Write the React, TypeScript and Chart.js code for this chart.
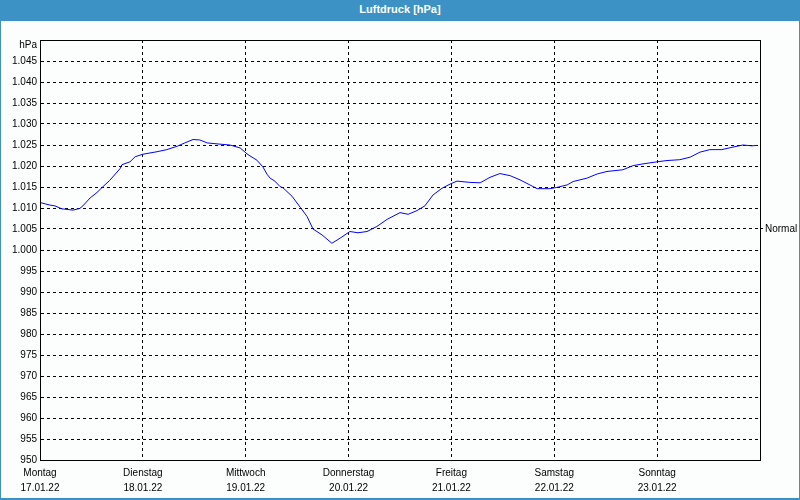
import React, { useEffect, useRef } from 'react';
import { Chart, registerables } from 'chart.js';

Chart.register(...registerables);

const TITLE = 'Luftdruck [hPa]';
const UNIT_LABEL = 'hPa';
const NORMAL_LABEL = 'Normal';
const NORMAL_VALUE = 1005;

const DAY_NAMES = ['Montag', 'Dienstag', 'Mittwoch', 'Donnerstag', 'Freitag', 'Samstag', 'Sonntag'];
const DATES = ['17.01.22', '18.01.22', '19.01.22', '20.01.22', '21.01.22', '22.01.22', '23.01.22'];
const DAY_HOURS = [0, 24, 48, 72, 96, 120, 144];

const Y_MIN = 950;
const Y_MAX = 1050;
const Y_STEP = 5;
const X_MAX_HOURS = 168;

// hours since Monday 17.01.22 00:00
const HOURS = [
  0, 2.3, 3.5, 5.1, 7.7, 9.3, 10, 11.7, 13.3, 14.7,
  16.3, 18.7, 19.1, 21, 22.2, 24, 27.3, 29.6, 32, 33.8,
  35.7, 37.3, 39, 42, 44.3, 46.7, 48.3, 49, 50.6, 52,
  53, 53.7, 54.8, 56, 56.7, 58.8, 60.7, 62.3, 63.7, 65.8,
  68.1, 70, 72.3, 74.2, 76.3, 78.6, 81, 84, 85.9, 88,
  89.8, 91.7, 93.8, 95.7, 97.3, 100.3, 102.7, 105, 107.3, 109.7,
  112, 114.3, 116, 119, 120.6, 123, 124.4, 127.6, 130, 132.3,
  136, 138.4, 140.7, 144, 146.3, 149.3, 151.7, 154, 156.3, 159.1,
  161.7, 164, 166.1, 167.3,
];

const PRESSURE = [
  1011.3, 1010.7, 1010.5, 1009.8, 1009.5, 1009.9, 1010.5, 1012.4, 1013.7, 1015.1,
  1016.6, 1019.4, 1020.3, 1021.0, 1022.2, 1022.8, 1023.4, 1023.9, 1024.7, 1025.5,
  1026.3, 1026.2, 1025.5, 1025.2, 1025.0, 1024.3, 1022.9, 1022.4, 1021.4, 1019.8,
  1018.0, 1017.1, 1016.4, 1015.1, 1014.8, 1012.8, 1010.2, 1008.0, 1005.0, 1003.6,
  1001.6, 1002.8, 1004.4, 1004.1, 1004.4, 1005.6, 1007.3, 1008.9, 1008.5, 1009.4,
  1010.5, 1013.1, 1014.7, 1015.7, 1016.4, 1016.1, 1016.0, 1017.3, 1018.2, 1017.7,
  1016.7, 1015.5, 1014.6, 1014.6, 1014.9, 1015.5, 1016.3, 1017.1, 1018.1, 1018.7,
  1019.1, 1020.1, 1020.5, 1021.0, 1021.3, 1021.5, 1022.1, 1023.3, 1023.9, 1023.9,
  1024.5, 1025.0, 1024.8, 1024.9,
];

const FONT = '"Liberation Sans", Arial, sans-serif';
const BLUE = '#3c92c5';

function formatHpa(v: number): string {
  if (v >= 1000) return '1.' + String(v - 1000).padStart(3, '0');
  return String(v);
}

export default function App() {
  const canvasRef = useRef<HTMLCanvasElement | null>(null);

  useEffect(() => {
    const canvas = canvasRef.current;
    if (!canvas) return;

    const framePlugin = {
      id: 'frame',
      afterDraw(chart: any) {
        const { ctx, chartArea } = chart;
        const { left, top, right, bottom } = chartArea;
        ctx.save();
        ctx.strokeStyle = '#000';
        ctx.lineWidth = 1;
        ctx.strokeRect(Math.round(left) + 0.5, Math.round(top) + 0.5, Math.round(right - left), Math.round(bottom - top));
        ctx.fillStyle = '#000';
        ctx.font = '10px ' + FONT;
        ctx.textAlign = 'right';
        ctx.textBaseline = 'middle';
        ctx.fillText(UNIT_LABEL, left - 3, top + 5);
        ctx.restore();
      },
    };

    const chart = new Chart(canvas, {
      type: 'line',
      data: {
        datasets: [
          {
            data: HOURS.map((h, i) => ({ x: h, y: PRESSURE[i] })),
            borderColor: '#0000ff',
            borderWidth: 1,
            pointRadius: 0,
            tension: 0,
            fill: false,
          },
        ],
      },
      options: {
        animation: false,
        responsive: false,
        maintainAspectRatio: false,
        events: [],
        layout: { padding: { top: 40, left: 0, right: 0, bottom: 0 } },
        plugins: {
          legend: { display: false },
          tooltip: { enabled: false },
          title: { display: false },
        },
        scales: {
          x: {
            type: 'linear',
            min: 0,
            max: X_MAX_HOURS,
            afterBuildTicks: (s: any) => {
              s.ticks = DAY_HOURS.map((v) => ({ value: v }));
            },
            afterFit: (s: any) => {
              s.height = 40;
            },
            grid: { color: '#000', lineWidth: 1, drawTicks: false },
            border: { display: true, color: '#000', dash: [3, 3] },
            ticks: {
              autoSkip: false,
              maxRotation: 0,
              padding: 6,
              color: '#000',
              font: { family: FONT, size: 10, lineHeight: 1.5 },
              callback: (_v: any, i: number) => [DAY_NAMES[i], DATES[i]],
            },
          },
          y: {
            type: 'linear',
            min: Y_MIN,
            max: Y_MAX,
            afterFit: (s: any) => {
              s.width = 40;
            },
            grid: { color: '#000', lineWidth: 1, drawTicks: false },
            border: { display: true, color: '#000', dash: [3, 3] },
            ticks: {
              stepSize: Y_STEP,
              autoSkip: false,
              padding: 3,
              color: '#000',
              font: { family: FONT, size: 10 },
              callback: (v: any) => (Number(v) === Y_MAX ? '' : formatHpa(Number(v))),
            },
          },
          y2: {
            type: 'linear',
            position: 'right',
            min: Y_MIN,
            max: Y_MAX,
            afterBuildTicks: (s: any) => {
              s.ticks = [{ value: NORMAL_VALUE }];
            },
            afterFit: (s: any) => {
              s.width = 40;
            },
            grid: { drawOnChartArea: false, drawTicks: true, tickLength: 3, color: '#000', tickColor: '#000' },
            border: { display: true, color: '#000' },
            ticks: {
              autoSkip: false,
              padding: 2,
              color: '#000',
              font: { family: FONT, size: 10 },
              callback: () => NORMAL_LABEL,
            },
          },
        },
      } as any,
      plugins: [framePlugin],
    });

    return () => {
      chart.destroy();
    };
  }, []);

  return (
    <div
      style={{
        position: 'fixed',
        left: 0,
        top: 0,
        width: 800,
        height: 500,
        boxSizing: 'border-box',
        background: '#fbfefd',
        borderLeft: `1px solid ${BLUE}`,
        borderRight: `1px solid ${BLUE}`,
        borderBottom: `2px solid ${BLUE}`,
        overflow: 'hidden',
      }}
    >
      <div
        style={{
          position: 'absolute',
          left: -1,
          top: 0,
          width: 800,
          height: 21,
          background: BLUE,
          color: '#fff',
          fontFamily: FONT,
          fontWeight: 'bold',
          fontSize: 11,
          lineHeight: '19px',
          textAlign: 'center',
        }}
      >
        {TITLE}
      </div>
      <canvas
        ref={canvasRef}
        width={800}
        height={500}
        style={{ position: 'absolute', left: -1, top: 0, width: 800, height: 500 }}
      />
    </div>
  );
}
